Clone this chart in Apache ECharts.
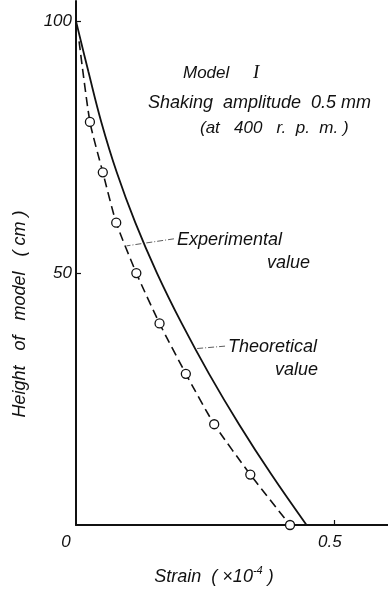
<!DOCTYPE html>
<html>
<head>
<meta charset="utf-8">
<script src="https://cdn.jsdelivr.net/npm/echarts@6/dist/echarts.min.js"></script>
<style>
  html, body { margin: 0; padding: 0; background: #fff; }
  #chart { width: 388px; height: 592px; }
</style>
</head>
<body>
<div id="chart"></div>
<script>
// theoretical curve (solid)
var heights = [100, 90, 80, 70, 60, 50, 40, 30, 20, 10, 0];
var theoreticalStrain = [0, 0.024, 0.049, 0.079, 0.115, 0.157, 0.205, 0.258, 0.316, 0.379, 0.447];
// experimental values (dashed, circles) - first point is where the dashed line starts
var expHeights = [96, 80, 70, 60, 50, 40, 30, 20, 10, 0];
var expStrain = [0.006, 0.027, 0.052, 0.078, 0.117, 0.162, 0.213, 0.268, 0.338, 0.415];
// axis ticks / labels
var xTicks = [0.5];
var xLabels = [0, 0.5];
var yTicks = [50, 100];

var FONT = 'Liberation Sans';
var chart = echarts.init(document.getElementById('chart'));

var theoData = heights.map(function (h, i) { return [theoreticalStrain[i], h]; });
var expData = expHeights.map(function (h, i) {
  var item = { value: [expStrain[i], h] };
  if (i === 0) item.symbol = 'none';
  return item;
});

var txt = { fontFamily: FONT, fontStyle: 'italic', fontSize: 17, fill: '#111' };
function label(x, y, text, extra) {
  var style = Object.assign({ text: text, x: x, y: y, verticalAlign: 'middle' }, txt, extra || {});
  return { type: 'text', style: style, silent: true };
}
var leaderStyle = { color: '#333', width: 0.8, type: [6, 2, 1, 2] };

var option = {
  animation: false,
  backgroundColor: '#fff',
  grid: { left: 76, right: 0, top: 1, bottom: 67, containLabel: false },
  xAxis: {
    type: 'value', min: 0, max: 0.605,
    splitLine: { show: false },
    axisLine: { lineStyle: { color: '#111', width: 2 } },
    axisTick: { inside: true, length: 5, customValues: xTicks, lineStyle: { color: '#111', width: 1.2 } },
    axisLabel: {
      customValues: xLabels, margin: 9,
      fontFamily: FONT, fontStyle: 'italic', fontSize: 17, color: '#111',
      formatter: function (v) { return v === 0 ? '{z|0}' : '{f|' + v + '}'; },
      rich: {
        z: { fontFamily: FONT, fontStyle: 'italic', fontSize: 17, color: '#111', padding: [0, 20, 0, 0] },
        f: { fontFamily: FONT, fontStyle: 'italic', fontSize: 17, color: '#111', padding: [0, 8, 0, 0] }
      }
    }
  },
  yAxis: {
    type: 'value', min: 0, max: 104,
    splitLine: { show: false },
    axisLine: { lineStyle: { color: '#111', width: 2 } },
    axisTick: { inside: true, length: 5, customValues: yTicks, lineStyle: { color: '#111', width: 1.2 } },
    axisLabel: {
      customValues: yTicks, margin: 4,
      fontFamily: FONT, fontStyle: 'italic', fontSize: 17, color: '#111'
    }
  },
  series: [
    {
      name: 'Theoretical value',
      type: 'line',
      smooth: 0.4,
      symbol: 'none',
      data: theoData,
      lineStyle: { color: '#111', width: 1.8 },
      markLine: {
        silent: true, symbol: 'none',
        label: { show: false },
        lineStyle: leaderStyle,
        data: [[{ coord: [0.289, 35.5] }, { coord: [0.232, 35.0] }]]
      }
    },
    {
      name: 'Experimental value',
      type: 'line',
      smooth: 0.2,
      symbol: 'circle',
      symbolSize: 9,
      data: expData,
      itemStyle: { color: '#fff', borderColor: '#111', borderWidth: 1.3 },
      lineStyle: { color: '#111', width: 1.6, type: [9, 5] },
      z: 3,
      markLine: {
        silent: true, symbol: 'none',
        label: { show: false },
        lineStyle: leaderStyle,
        data: [[{ coord: [0.19, 56.8] }, { coord: [0.098, 55.4] }]]
      }
    }
  ],
  graphic: [
    label(183, 73, '{a|Model}     {b|I}', {
      rich: {
        a: { fontFamily: FONT, fontStyle: 'italic', fontSize: 17, fill: '#111' },
        b: { fontFamily: 'Liberation Serif', fontStyle: 'italic', fontSize: 19, fill: '#111' }
      }
    }),
    label(148, 103, 'Shaking  amplitude  0.5 mm', { fontSize: 18 }),
    label(200, 128, '(at   400   r.  p.  m. )', { fontSize: 17 }),
    label(177, 240, 'Experimental', { fontSize: 18 }),
    label(310, 263, 'value', { fontSize: 18, align: 'right' }),
    label(228, 347, 'Theoretical', { fontSize: 18 }),
    label(318, 370, 'value', { fontSize: 18, align: 'right' }),
    label(214, 577, 'Strain  ( ×10{s|-4} )', {
      align: 'center', fontSize: 18, lineHeight: 24,
      rich: { s: { fontFamily: FONT, fontStyle: 'italic', fontSize: 11, fill: '#111', verticalAlign: 'top', lineHeight: 12 } }
    }),
    {
      type: 'text', x: 20, y: 314, rotation: Math.PI / 2, silent: true,
      style: Object.assign({ text: 'Height   of   model   ( cm )', align: 'center', verticalAlign: 'middle' }, txt, { fontSize: 18 })
    }
  ]
};

chart.setOption(option);
</script>
</body>
</html>
